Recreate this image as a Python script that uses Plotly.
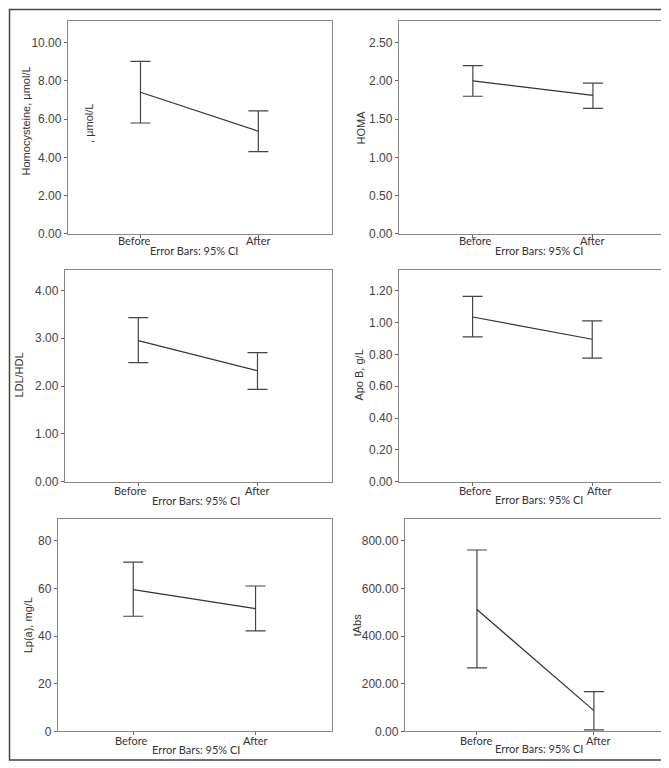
import plotly.graph_objects as go

W, H = 669, 768

categories = ["Before", "After"]

homocysteine_mean = [7.41, 5.37]
homocysteine_upper = [9.02, 6.43]
homocysteine_lower = [5.80, 4.30]

homa_mean = [2.00, 1.81]
homa_upper = [2.20, 1.97]
homa_lower = [1.80, 1.64]

ldlhdl_mean = [2.95, 2.32]
ldlhdl_upper = [3.43, 2.70]
ldlhdl_lower = [2.49, 1.93]

apob_mean = [1.035, 0.895]
apob_upper = [1.165, 1.01]
apob_lower = [0.91, 0.777]

lpa_mean = [59.5, 51.5]
lpa_upper = [71.0, 61.0]
lpa_lower = [48.3, 42.2]

tabs_mean = [512.0, 87.0]
tabs_upper = [762.0, 167.0]
tabs_lower = [267.0, 6.0]

y_titles = ["Homocysteine, µmol/L", "HOMA", "LDL/HDL", "Apo B, g/L", "Lp(a), mg/L", "tAbs"]
y_ticks = [
    [0, 2, 4, 6, 8, 10],
    [0, 0.5, 1.0, 1.5, 2.0, 2.5],
    [0, 1, 2, 3, 4],
    [0, 0.2, 0.4, 0.6, 0.8, 1.0, 1.2],
    [0, 20, 40, 60, 80],
    [0, 200, 400, 600, 800],
]
y_tops = [11.14, 2.785, 4.435, 1.333, 89.0, 891.0]
footnote = "Error Bars: 95% CI"

series = [
    (homocysteine_mean, homocysteine_upper, homocysteine_lower),
    (homa_mean, homa_upper, homa_lower),
    (ldlhdl_mean, ldlhdl_upper, ldlhdl_lower),
    (apob_mean, apob_upper, apob_lower),
    (lpa_mean, lpa_upper, lpa_lower),
    (tabs_mean, tabs_upper, tabs_lower),
]

# layout in pixels: (left, right, top, bottom)
boxes = [
    (60, 324, 13, 228),
    (391, 660, 13, 228),
    (57, 324, 264, 478),
    (391, 659, 264, 478),
    (50, 324, 516, 730),
    (397, 659, 516, 730),
]
title_x = [18, 353, 11, 351, 20, 349]
foot_pos = [(186, 245), (531, 245), (188, 497), (531, 496), (188, 748), (531, 747)]
label_y = [235, 235, 487, 487, 739, 739]
label_shift = [(-6, 0), (2, 0), (-8, 0), (2, 7), (-2, 0), (-1, 5)]
tick_fmt = [".2f", ".2f", ".2f", ".2f", "d", ".2f"]

fig = go.Figure()
annotations = []
layout = {}

def px(x):
    return x / W

def py(y):
    return 1 - y / H

for i, ((mean, up, lo), (l, r, t, b)) in enumerate(zip(series, boxes)):
    n = "" if i == 0 else str(i + 1)
    xs = list(range(len(categories)))
    fig.add_trace(go.Scatter(
        x=xs, y=mean, mode="lines",
        line=dict(color="#333333", width=1.2),
        error_y=dict(type="data", symmetric=False,
                     array=[u - m for u, m in zip(up, mean)],
                     arrayminus=[m - d for m, d in zip(mean, lo)],
                     color="#444444", thickness=1.2, width=10),
        xaxis="x" + n, yaxis="y" + n, showlegend=False, hoverinfo="skip",
    ))
    layout["xaxis" + n] = dict(
        domain=[px(l), px(r)], anchor="y" + n, range=[-0.615, 1.625],
        tickvals=xs, showticklabels=False, ticks="outside", ticklen=3,
        tickcolor="#666666", showline=True, linecolor="#888888", linewidth=1.3,
        mirror=True, showgrid=False, zeroline=False, fixedrange=True,
    )
    layout["yaxis" + n] = dict(
        domain=[py(b), py(t)], anchor="x" + n, range=[0, y_tops[i]],
        tickvals=y_ticks[i], tickformat=tick_fmt[i], ticks="outside", ticklen=3,
        tickcolor="#666666", showline=True, linecolor="#888888", linewidth=1.3,
        mirror=True, showgrid=False, zeroline=False, fixedrange=True,
        tickfont=dict(family="Liberation Sans, Arial, sans-serif", size=12, color="#444444"),
    )
    annotations.append(dict(
        text=y_titles[i], x=px(title_x[i]), y=py((t + b) / 2 - 6 if i == 0 else (t + b) / 2),
        xref="paper", yref="paper", textangle=-90, showarrow=False,
        xanchor="center", yanchor="middle",
        font=dict(family="Liberation Sans, Arial, sans-serif", size=11, color="#333333"),
    ))
    fx, fy = foot_pos[i]
    annotations.append(dict(
        text=footnote, x=px(fx), y=py(fy), xref="paper", yref="paper",
        showarrow=False, xanchor="center", yanchor="middle",
        font=dict(family="Lato, sans-serif", size=11, color="#333333"),
    ))
    for j, cat in enumerate(categories):
        annotations.append(dict(
            text=cat, x=j, y=py(label_y[i]), xref="x" + n, yref="paper",
            xshift=label_shift[i][j], showarrow=False,
            xanchor="center", yanchor="middle",
            font=dict(family="Lato, sans-serif", size=11, color="#333333"),
        ))

# stray unit label inside the first panel
annotations.append(dict(
    text=", µmol/L", x=px(81), y=py(117), xref="paper", yref="paper",
    textangle=-90, showarrow=False, xanchor="center", yanchor="middle",
    font=dict(family="Liberation Sans, Arial, sans-serif", size=11, color="#333333"),
))

fig.update_layout(
    width=W, height=H, autosize=False,
    margin=dict(l=0, r=0, t=0, b=0),
    paper_bgcolor="white", plot_bgcolor="white",
    annotations=annotations,
    shapes=[dict(type="rect", xref="paper", yref="paper",
                 x0=px(1.5), x1=px(667), y0=py(759), y1=py(1.5),
                 line=dict(color="#444444", width=1.5))],
    **layout,
)

fig.write_html("out.html")
